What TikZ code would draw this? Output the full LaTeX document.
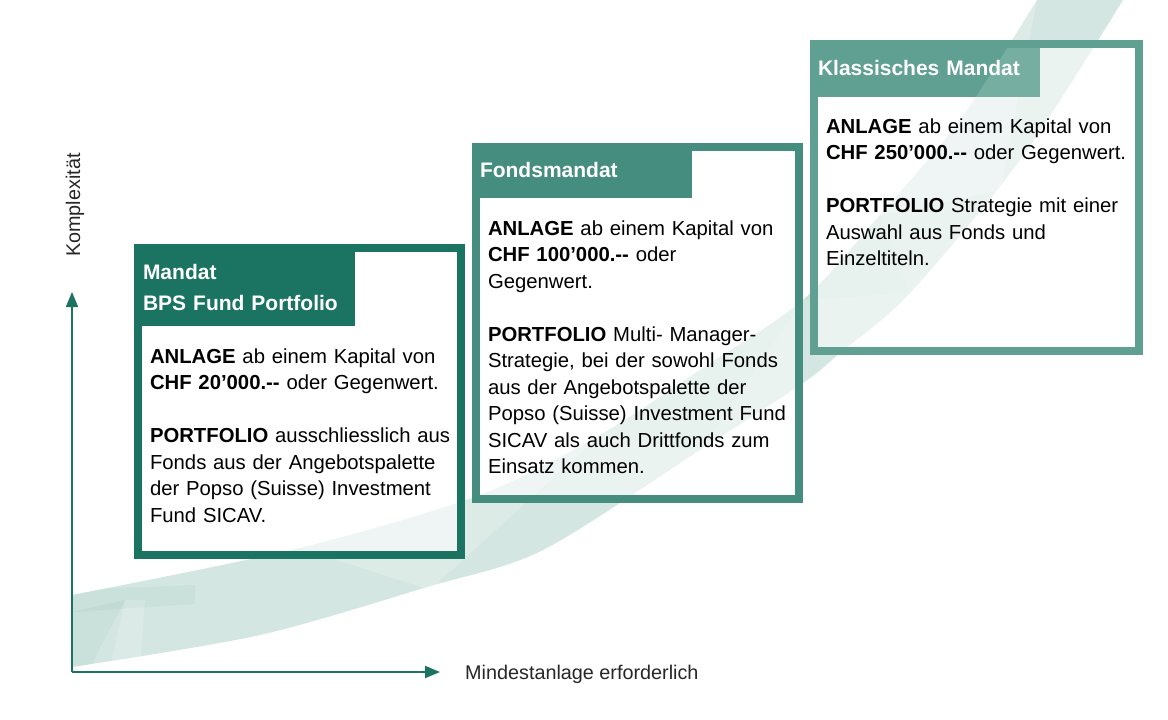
\documentclass[tikz,border=0pt]{standalone}
\usepackage{fontspec}
\setmainfont{Liberation Sans}
\usetikzlibrary{arrows.meta}
\definecolor{tealA}{HTML}{1B7362}
\definecolor{tealB}{HTML}{458D7E}
\definecolor{tealC}{HTML}{60A092}
\definecolor{bandC}{HTML}{D4E6E1}
\begin{document}
\begin{tikzpicture}[x=1pt,y=-1pt,
  body/.style={anchor=base west, inner sep=0pt, outer sep=0pt, text width=315pt, align=left,
    font=\fontsize{20.3}{26.5}\selectfont, text=black},
  titletext/.style={anchor=base west, inner sep=0pt, outer sep=0pt, text width=220pt, align=left,
    font=\fontsize{21}{30.5}\selectfont\bfseries, text=white},
  axislabel/.style={inner sep=0pt, font=\fontsize{19.8}{22}\selectfont, text=black!85},
  frameline/.style={line width=8pt},
  axisline/.style={draw=tealA, line width=1.8pt, -{Triangle[width=12pt,length=15pt]}},
  panefill/.style={fill=white, fill opacity=0.55}
]
\useasboundingbox (0,0) rectangle (1168,720);
\fill[white] (0,0) rectangle (1168,720);

% band
\def\bandpath{plot[smooth] coordinates {(72,595) (300,548) (480,495) (600,435) (700,370) (803,300) (880,215) (960,120) (1037,0)} -- (1123,0) -- plot[smooth] coordinates {(1123,0) (1020,160) (910,293) (840,353) (803,383) (700,450) (543,550) (427,587) (260,635) (72,667)} -- cycle}
\fill[bandC] \bandpath;
\begin{scope}
  \clip \bandpath;
  \fill[tealA, opacity=0.05] (72,590) -- (195,585) -- (195,604) -- (72,612) -- cycle;
  \fill[tealA, opacity=0.05] (72,612) -- (125,600) -- (90,667) -- (72,667) -- cycle;
  \fill[white, opacity=0.18] (125,600) -- (145,600) -- (140,667) -- (110,667) -- cycle;
  \fill[white, opacity=0.22] (300,548) -- (600,435) -- (430,590) -- cycle;
  \fill[tealA, opacity=0.05] (600,435) -- (803,300) -- (700,450) -- cycle;
  \fill[white, opacity=0.22] (880,215) -- (1037,0) -- (1000,190) -- cycle;
  \fill[tealA, opacity=0.05] (803,300) -- (880,215) -- (910,293) -- cycle;
\end{scope}

% box 1
\fill[panefill] (138,248) rectangle (461,555);
\fill[tealA] (134,244) rectangle (355,326);
\draw[frameline, tealA] (138,248) rectangle (461,555);
% box 2
\fill[panefill] (476,147) rectangle (799,499);
\fill[tealB] (472,143) rectangle (692,198);
\draw[frameline, tealB] (476,147) rectangle (799,499);
% box 3
\fill[panefill] (814,44) rectangle (1139,351);
\fill[tealC] (810,40) rectangle (1040,97);
\begin{scope}
  \clip (810,40) rectangle (1040,97);
  \fill[white, opacity=0.15] \bandpath;
\end{scope}
\draw[frameline, tealC] (814,44) rectangle (1139,351);

% titles
\node[titletext] (t1) at (143,279.5) {Mandat\\BPS Fund Portfolio};
\node[titletext] (t2) at (480,177.5) {Fondsmandat};
\node[titletext] (t3) at (818,75.5) {Klassisches Mandat};

% bodies
\node[body] (b1) at (150,363) {\textbf{ANLAGE} ab einem Kapital von\\
\textbf{CHF 20’000.-{}-} oder Gegenwert.\\[26.5pt]
\textbf{PORTFOLIO} ausschliesslich aus\\
Fonds aus der Angebotspalette\\
der Popso (Suisse) Investment\\
Fund SICAV.};
\node[body] (b2) at (488,235) {\textbf{ANLAGE} ab einem Kapital von\\
\textbf{CHF 100’000.-{}-} oder\\
Gegenwert.\\[26.5pt]
\textbf{PORTFOLIO} Multi- Manager-\\
Strategie, bei der sowohl Fonds\\
aus der Angebotspalette der\\
Popso (Suisse) Investment Fund\\
SICAV als auch Drittfonds zum\\
Einsatz kommen.};
\node[body] (b3) at (826,133) {\textbf{ANLAGE} ab einem Kapital von\\
\textbf{CHF 250’000.-{}-} oder Gegenwert.\\[26.5pt]
\textbf{PORTFOLIO} Strategie mit einer\\
Auswahl aus Fonds und\\
Einzeltiteln.};

% axes
\coordinate (origin) at (72,672);
\coordinate (ytip) at (72,292);
\coordinate (xtip) at (440,672);
\draw[axisline] (origin) -- (ytip);
\draw[axisline] (origin) -- (xtip);
\node[axislabel, rotate=90, anchor=base] (ylab) at (80,205) {Komplexität};
\node[axislabel, anchor=base west] (xlab) at (465,679) {Mindestanlage erforderlich};
\end{tikzpicture}
\end{document}
